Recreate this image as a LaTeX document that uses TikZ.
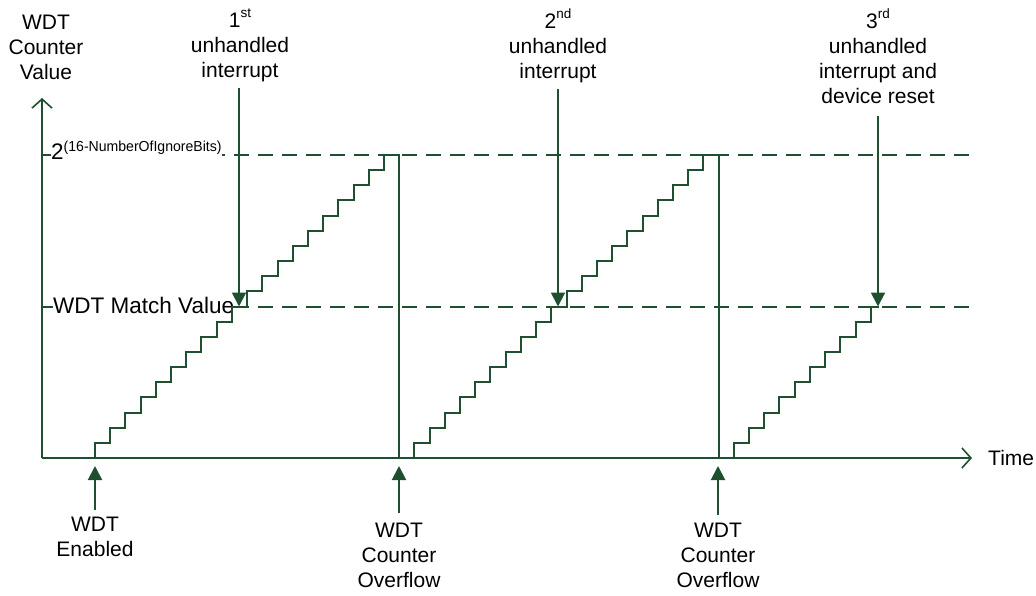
\documentclass[tikz,border=0pt]{standalone}
\usepackage{fontspec}
\setmainfont{Liberation Sans}
\usetikzlibrary{arrows.meta}
\definecolor{wg}{RGB}{30,80,48}
\newcommand{\supx}[1]{\raisebox{9.5pt}{\fontsize{13.5}{14}\selectfont #1}}
\begin{document}
\begin{tikzpicture}[x=1pt,y=-1pt,
  axisline/.style={draw=wg,line width=1.6pt,-{Straight Barb[length=9pt,width=20pt]}},
  stair/.style={draw=wg,line width=2pt,line join=miter},
  level/.style={draw=wg,line width=2pt,dash pattern=on 15pt off 9pt},
  parr/.style={draw=wg,line width=2pt,-{Triangle[length=14pt,width=14pt]}},
  lbl/.style={font=\fontsize{21}{25}\selectfont,align=center,inner sep=0pt,text=black},
  lvl/.style={font=\fontsize{22.5}{25}\selectfont,inner sep=0pt,fill=white,text=black,anchor=west}]
\useasboundingbox (0,0) rectangle (1036,596);
% named points
\coordinate (o) at (42,458);
\coordinate (ytop) at (42,98);
\coordinate (xend) at (972,458);
\coordinate (hiS) at (42,155);
\coordinate (hiE) at (973,155);
\coordinate (miS) at (42,306.5);
\coordinate (miE) at (973,306.5);
\coordinate (m1) at (239,306.5);
\coordinate (m2) at (558,306.5);
\coordinate (m3) at (878,306.5);
\coordinate (e1) at (95,466);
\coordinate (e2) at (399,466);
\coordinate (e3) at (718,466);
% level lines
\draw[level] (hiS) -- (hiE);
\draw[level] (miS) -- (miE);
% level labels
\node[lvl] (hilab) at (51,150) {2\raisebox{8.5pt}{\fontsize{14.5}{15}\selectfont\scalebox{0.97}[1]{(16-NumberOfIgnoreBits)}}};
\node[lvl] (milab) at (53,305.5) {WDT Match Value};
% staircase counter
\draw[stair] (80,458) -- (95,458)
  foreach \i in {1,...,20}{ -- ++(0,-15.15) -- ++(15.21,0)} -- ++(0,303)
  -- ++(15.21,0)
  foreach \i in {1,...,20}{ -- ++(0,-15.15) -- ++(15.21,0)} -- ++(0,303)
  -- ++(15.21,0)
  foreach \i in {1,...,9}{ -- ++(0,-15.15) -- ++(15.21,0)} -- ++(0,-15.15) -- ++(8,0);
% axes
\draw[axisline] (o) -- (ytop);
\draw[axisline] (o) -- (xend);
\node[lbl,anchor=west] (time) at (988,458) {Time};
\node[lbl,anchor=north] (ylab) at (46,15) {WDT\\Counter\\Value};
% top labels and arrows
\node[lbl,anchor=north] (u1) at (240,9) {1\supx{st}\\unhandled\\interrupt};
\node[lbl,anchor=north] (u2) at (558,9) {2\supx{nd}\\unhandled\\interrupt};
\node[lbl,anchor=north] (u3) at (878,9) {3\supx{rd}\\unhandled\\interrupt and\\device reset};
\draw[parr] ([yshift=-6pt]u1.south -| m1) -- (m1);
\draw[parr] ([yshift=-6pt]u2.south -| m2) -- (m2);
\draw[parr] ([yshift=-12pt]u3.south -| m3) -- (m3);
% bottom labels and arrows
\node[lbl,anchor=north] (en) at (95,517) {WDT\\Enabled};
\node[lbl,anchor=north] (ov1) at (399,523) {WDT\\Counter\\Overflow};
\node[lbl,anchor=north] (ov2) at (718,523) {WDT\\Counter\\Overflow};
\draw[parr] ([yshift=7pt]en.north) -- (e1);
\draw[parr] ([yshift=10pt]ov1.north) -- (e2);
\draw[parr] ([yshift=8pt]ov2.north) -- (e3);
\end{tikzpicture}
\end{document}
